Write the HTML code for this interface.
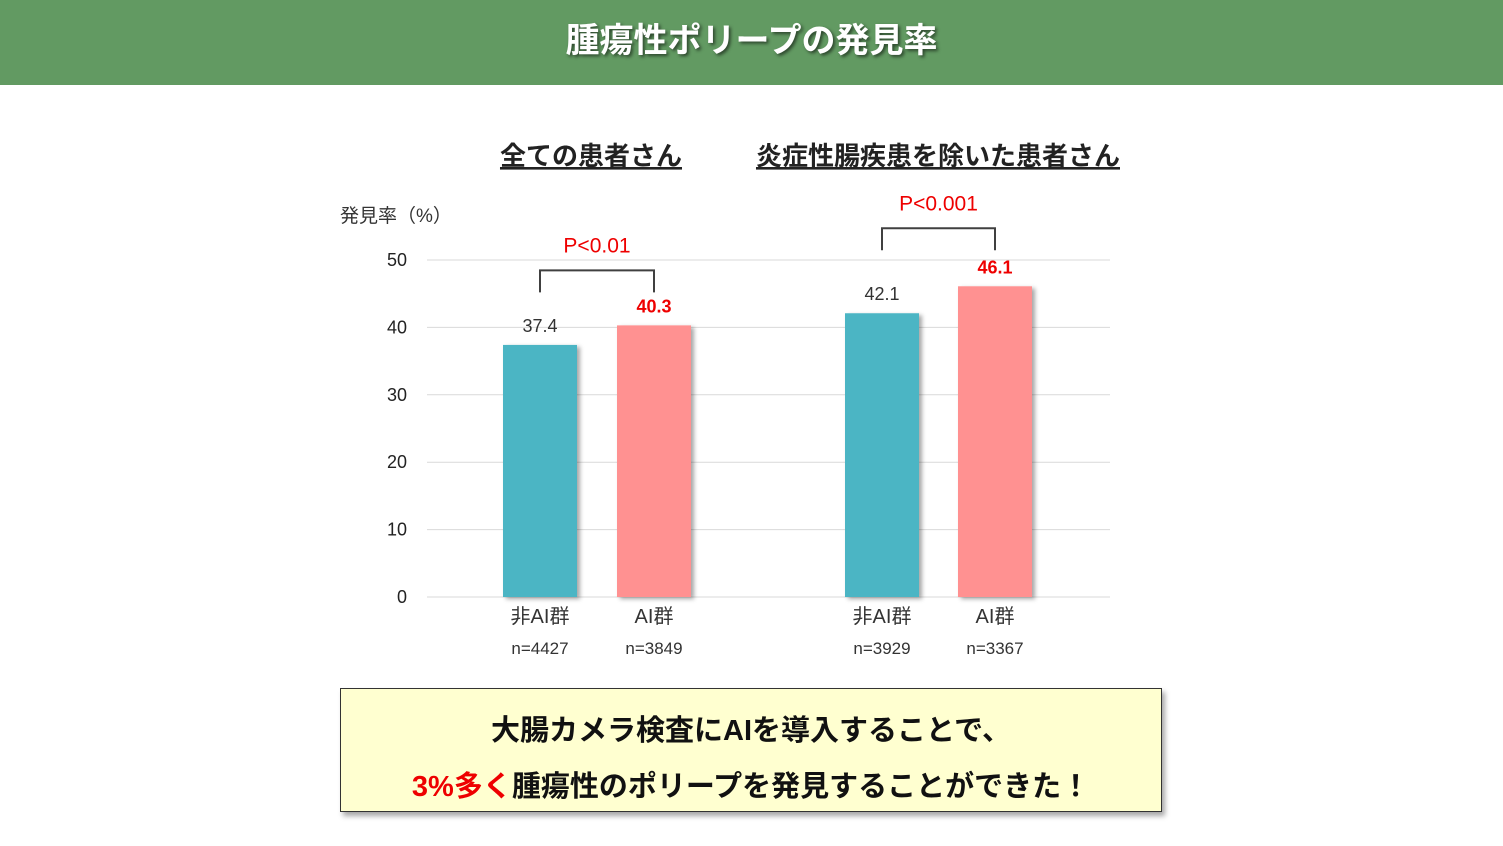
<!DOCTYPE html>
<html><head><meta charset="utf-8"><style>
body{margin:0;width:1503px;height:846px;background:#fff;overflow:hidden;font-family:"Liberation Sans","Noto Sans CJK JP",sans-serif;position:relative}
#hdr{position:absolute;left:0;top:0;width:1503px;height:85px;background:#629a62;color:#fff;font-weight:bold;font-size:34px;text-align:center;line-height:82px;text-shadow:2px 2px 3px rgba(0,0,0,.55)}
#box{position:absolute;left:340px;top:688px;width:820px;height:122px;background:#ffffd0;border:1px solid #333;box-shadow:3px 4px 5px rgba(0,0,0,.35);text-align:center;font-weight:bold;font-size:29px;color:#111}
#box div{position:absolute;left:0;width:100%}
svg{position:absolute;left:0;top:0}
</style></head><body>
<div id="hdr">腫瘍性ポリープの発見率</div>
<svg id="chart" width="1503" height="846"></svg>
<div id="box">
<div style="top:18px">大腸カメラ検査にAIを導入することで、</div>
<div style="top:74px"><span style="color:#e00">3%多く</span>腫瘍性のポリープを発見することができた！</div>
</div>
<script>
const categories=["非AI群","AI群","非AI群","AI群"];
const counts=["n=4427","n=3849","n=3929","n=3367"];
const values=[37.4,40.3,42.1,46.1];
const valueLabels=["37.4","40.3","42.1","46.1"];
const ticks=[0,10,20,30,40,50];
const groupTitles=["全ての患者さん","炎症性腸疾患を除いた患者さん"];
const pLabels=["P<0.01","P<0.001"];
const svg=document.getElementById('chart');
const NS='http://www.w3.org/2000/svg';
function y(v){return 597-v*6.74;}
const barX=[503,617,845,958], bw=74;
function mk(t,a,txt){const e=document.createElementNS(NS,t);for(const k in a)e.setAttribute(k,a[k]);if(txt!=null)e.textContent=txt;svg.appendChild(e);return e;}
const defs=mk('defs',{});
defs.innerHTML='<filter id="sh" x="-20%" y="-5%" width="150%" height="120%"><feDropShadow dx="3" dy="2" stdDeviation="2" flood-opacity="0.35"/></filter>';
ticks.forEach(t=>{
 const l=mk('line',{x1:427,x2:1110,y1:y(t),y2:y(t),stroke:'#d9d9d9','stroke-width':1});
 
 const tx=mk('text',{x:407,y:y(t)+6,'text-anchor':'end','font-size':18,fill:'#222'},t);
 
});
const yt=mk('text',{x:340,y:222,'font-size':19,fill:'#333'},'発見率（%）');

values.forEach((v,i)=>{
 const ai=i%2==1;
 const r=mk('rect',{x:barX[i],y:y(v),width:bw,height:y(0)-y(v),fill:ai?'#ff9191':'#4bb5c4',filter:'url(#sh)'});
 
 const vl=mk('text',{x:barX[i]+bw/2,y:y(v)-13,'text-anchor':'middle','font-size':18,fill:ai?'#e00':'#333','font-weight':ai?'bold':'normal'},valueLabels[i]);
 
 const c=mk('text',{x:barX[i]+bw/2,y:623,'text-anchor':'middle','font-size':20,fill:'#333'},categories[i]);
 
 const n=mk('text',{x:barX[i]+bw/2,y:654,'text-anchor':'middle','font-size':17,fill:'#333'},counts[i]);
 
});
[0,1].forEach(g=>{
 const a=barX[g*2]+bw/2,b=barX[g*2+1]+bw/2;
 const top=y(values[g*2+1])-(g==0?55:58);
 const p=mk('path',{d:`M${a},${top+22}V${top}H${b}V${top+22}`,fill:'none',stroke:'#404040','stroke-width':2});
 
 const pt=mk('text',{x:(a+b)/2,y:top-18,'text-anchor':'middle','font-size':21,fill:'#e00'},pLabels[g]);
 
 const gx=g==0?591:938;
 const gt=mk('text',{x:gx,y:165,'text-anchor':'middle','font-size':26,'font-weight':'bold',fill:'#222','text-decoration':'underline'},groupTitles[g]);
 
});
</script>
</body></html>
